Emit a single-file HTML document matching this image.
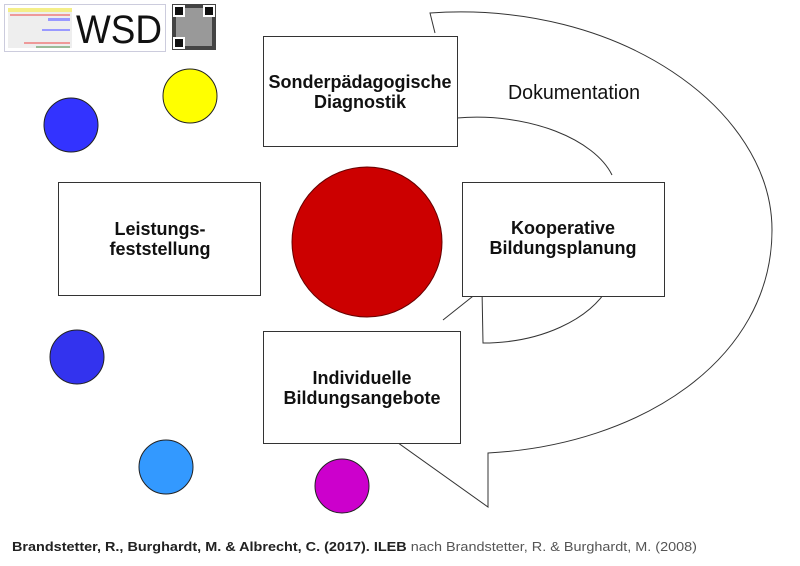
<!DOCTYPE html>
<html><head><meta charset="utf-8"><style>
html,body{margin:0;padding:0;background:#fff;}
svg{display:block;font-family:"Liberation Sans",sans-serif;}
</style></head><body>
<svg width="800" height="566" viewBox="0 0 800 566" xmlns="http://www.w3.org/2000/svg">
<rect x="0" y="0" width="800" height="566" fill="#fff"/>
<!-- logo -->
<rect x="4.5" y="4.5" width="161" height="47" fill="#fff" stroke="#ccd" stroke-width="1"/>
<rect x="8" y="8" width="64" height="40" fill="#eee"/>
<rect x="8" y="8" width="64" height="4" fill="#f4ee88"/>
<rect x="10" y="14" width="60" height="2" fill="#e99"/>
<rect x="48" y="18" width="22" height="3" fill="#99f"/>
<rect x="42" y="29" width="28" height="2" fill="#99f"/>
<rect x="24" y="42" width="46" height="2" fill="#e99"/>
<rect x="36" y="46" width="34" height="2" fill="#9b9"/>
<text x="76" y="43" font-size="40" fill="#111" textLength="86" lengthAdjust="spacingAndGlyphs">WSD</text>
<rect x="172" y="4" width="44" height="46" fill="#444"/>
<rect x="176" y="8" width="36" height="38" fill="#999"/>
<rect x="174" y="6" width="10" height="10" fill="#111" stroke="#fff" stroke-width="2"/>
<rect x="204" y="6" width="10" height="10" fill="#111" stroke="#fff" stroke-width="2"/>
<rect x="174" y="38" width="10" height="10" fill="#111" stroke="#fff" stroke-width="2"/>

<!-- outer arrow -->
<path d="M435,33 L430,13 C620,0 772,110 772,230 C772,360 640,445 488,453 L488,507 L380,430" fill="#fff" stroke="#333" stroke-width="1"/>
<!-- inner arrow -->
<path d="M457,118 C530,112 595,140 612,175" fill="none" stroke="#333" stroke-width="1"/>
<path d="M609,286 C590,320 540,343 483,343 L482,289 L443,320" fill="none" stroke="#333" stroke-width="1"/>

<circle cx="367" cy="242" r="75" fill="#cc0000" stroke="#600" stroke-width="1"/>
<circle cx="71" cy="125" r="27" fill="#3333ff" stroke="#222" stroke-width="1"/>
<circle cx="190" cy="96" r="27" fill="#ffff00" stroke="#222" stroke-width="1"/>
<circle cx="77" cy="357" r="27" fill="#3333ee" stroke="#222" stroke-width="1"/>
<circle cx="166" cy="467" r="27" fill="#3399ff" stroke="#222" stroke-width="1"/>
<circle cx="342" cy="486" r="27" fill="#cc00cc" stroke="#222" stroke-width="1"/>

<g fill="#fff" stroke="#333" stroke-width="1">
<rect x="263.5" y="36.5" width="194" height="110"/>
<rect x="58.5" y="182.5" width="202" height="113"/>
<rect x="462.5" y="182.5" width="202" height="114"/>
<rect x="263.5" y="331.5" width="197" height="112"/>
</g>
<g font-size="18" font-weight="bold" fill="#111" text-anchor="middle">
<text x="360" y="88">Sonderpädagogische</text>
<text x="360" y="108">Diagnostik</text>
<text x="160" y="235">Leistungs-</text>
<text x="160" y="255">feststellung</text>
<text x="563" y="234">Kooperative</text>
<text x="563" y="254">Bildungsplanung</text>
<text x="362" y="384">Individuelle</text>
<text x="362" y="404">Bildungsangebote</text>
</g>
<text x="574" y="99" font-size="20" fill="#111" text-anchor="middle" textLength="132" lengthAdjust="spacingAndGlyphs">Dokumentation</text>
<text x="12" y="551" font-size="13" fill="#222" textLength="685" lengthAdjust="spacingAndGlyphs"><tspan font-weight="bold">Brandstetter, R., Burghardt, M. &amp; Albrecht, C. (2017). ILEB</tspan><tspan fill="#555"> nach Brandstetter, R. &amp; Burghardt, M. (2008)</tspan></text>
</svg>
</body></html>
